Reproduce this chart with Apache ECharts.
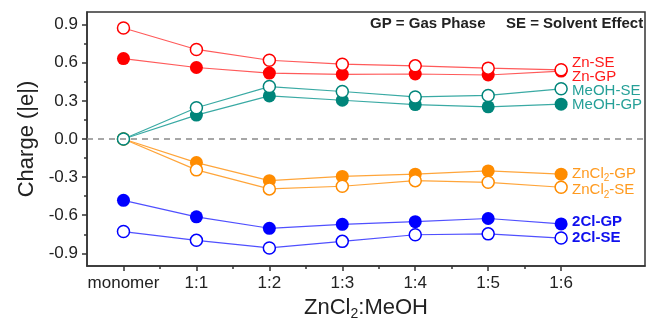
<!DOCTYPE html>
<html>
<head>
<meta charset="utf-8">
<script src="https://cdn.jsdelivr.net/npm/echarts@6/dist/echarts.min.js"></script>
<style>
html,body{margin:0;padding:0;background:#fff;}
#c{width:648px;height:326px;}
</style>
</head>
<body>
<div id="c"></div>
<script>
// ---- data ----
const categories = ['monomer', '1:1', '1:2', '1:3', '1:4', '1:5', '1:6'];
const znSE   = [0.874, 0.705, 0.620, 0.589, 0.576, 0.558, 0.545];
const znGP   = [0.633, 0.563, 0.519, 0.509, 0.512, 0.504, 0.535];
const meohSE = [0.000, 0.246, 0.413, 0.374, 0.331, 0.343, 0.395];
const meohGP = [0.000, 0.188, 0.339, 0.305, 0.271, 0.253, 0.274];
const zncl2GP = [0.000, -0.186, -0.328, -0.295, -0.277, -0.251, -0.277];
const zncl2SE = [0.000, -0.243, -0.393, -0.372, -0.328, -0.341, -0.380];
const cl2GP  = [-0.483, -0.613, -0.703, -0.672, -0.651, -0.626, -0.669];
const cl2SE  = [-0.729, -0.798, -0.858, -0.806, -0.754, -0.747, -0.780];
const yTicks = [-0.9, -0.6, -0.3, 0.0, 0.3, 0.6, 0.9];
const yMinorTicks = [-0.75, -0.45, -0.15, 0.15, 0.45, 0.75];
const xMinorTicks = [0.5, 1.5, 2.5, 3.5, 4.5, 5.5];

const FONT = "'Liberation Sans', Arial, sans-serif";
const toXY = arr => arr.map((v, i) => [i, v]);

function mk(name, data, color, lineColor, labelColor, filled, labelFmt, dy, bold, rich) {
  return {
    name: name,
    type: 'line',
    data: toXY(data),
    symbol: 'circle',
    symbolSize: filled ? 13 : 12,
    lineStyle: { color: lineColor, width: 1.2 },
    itemStyle: filled ? { color: color } : { color: '#fff', borderColor: color, borderWidth: 1.5 },
    emphasis: { disabled: true },
    endLabel: {
      show: true,
      formatter: labelFmt,
      color: labelColor,
      fontFamily: FONT,
      fontSize: 15,
      fontWeight: bold ? 'bold' : 'normal',
      distance: 11,
      offset: [0, dy],
      rich: rich || undefined
    },
    animation: false
  };
}

const subRich = (c) => ({
  a: { fontSize: 15, color: c, fontFamily: FONT },
  s: { fontSize: 10, color: c, fontFamily: FONT, padding: [9, 0, 0, 0] }
});

const orange = '#ff8c00', orangeL = '#ffa53a', orangeT = '#ff9a1f';
const blue = '#0000ff', blueL = '#5050ff', blueT = '#1010ee';
const red = '#ff0000', redL = '#ff5a5a', redT = '#ff1a1a';
const teal = '#00857a', tealL = '#3aaaa4', tealT = '#26a098';

const series = [
  mk('ZnCl2-GP', zncl2GP, orange, orangeL, orangeT, true, '{a|ZnCl}{s|2}{a|-GP}', 0, false, subRich(orangeT)),
  mk('ZnCl2-SE', zncl2SE, orange, orangeL, orangeT, false, '{a|ZnCl}{s|2}{a|-SE}', 3, false, subRich(orangeT)),
  mk('2Cl-GP', cl2GP, blue, blueL, blueT, true, '2Cl-GP', -2, true),
  mk('2Cl-SE', cl2SE, blue, blueL, blueT, false, '2Cl-SE', 0, true),
  mk('Zn-GP', znGP, red, redL, redT, true, 'Zn-GP', 6, false),
  mk('Zn-SE', znSE, red, redL, redT, false, 'Zn-SE', -7, false),
  mk('MeOH-GP', meohGP, teal, tealL, tealT, true, 'MeOH-GP', 1, false),
  mk('MeOH-SE', meohSE, teal, tealL, tealT, false, 'MeOH-SE', 2, false)
];
series[0].markLine = {
  silent: true,
  symbol: 'none',
  label: { show: false },
  lineStyle: { color: '#8a8a8a', type: [6, 5], width: 1.5 },
  data: [{ yAxis: 0 }],
  animation: false
};
series[0].z = 1;

const chart = echarts.init(document.getElementById('c'), null, { renderer: 'canvas' });
chart.setOption({
  animation: false,
  backgroundColor: '#fff',
  grid: { left: 87, right: 3, top: 12, bottom: 55, show: true, borderColor: '#333', borderWidth: 1.5, backgroundColor: 'transparent' },
  xAxis: [
    {
      type: 'value', min: -0.5, max: 7.15,
      axisLine: { show: true, onZero: false, lineStyle: { color: '#333', width: 1.5 } },
      axisTick: { show: true, customValues: [0, 1, 2, 3, 4, 5, 6], length: 5, lineStyle: { color: '#333', width: 1.5 } },
      axisLabel: {
        customValues: [0, 1, 2, 3, 4, 5, 6],
        formatter: v => categories[Math.round(v)],
        color: '#222', fontFamily: FONT, fontSize: 17, margin: 9
      },
      splitLine: { show: false },
      name: '{a|ZnCl}{s|2}{a|:MeOH}',
      nameLocation: 'middle',
      nameGap: 29,
      nameTextStyle: {
        rich: {
          a: { fontSize: 22, color: '#222', fontFamily: FONT },
          s: { fontSize: 14, color: '#222', fontFamily: FONT, padding: [12, 0, 0, 0] }
        }
      }
    },
    {
      type: 'value', min: -0.5, max: 7.15, position: 'bottom',
      axisLine: { show: false, onZero: false },
      axisTick: { show: true, customValues: xMinorTicks, length: 3, lineStyle: { color: '#333', width: 1.5 } },
      axisLabel: { show: false },
      splitLine: { show: false }
    }
  ],
  yAxis: [
    {
      type: 'value', min: -1, max: 1,
      axisLine: { show: true, onZero: false, lineStyle: { color: '#333', width: 1.5 } },
      axisTick: { show: true, customValues: yTicks, length: 5, lineStyle: { color: '#333', width: 1.5 } },
      axisLabel: {
        customValues: yTicks,
        formatter: v => v.toFixed(1),
        color: '#222', fontFamily: FONT, fontSize: 17, margin: 9
      },
      splitLine: { show: false },
      name: 'Charge (|e|)',
      nameLocation: 'middle',
      nameGap: 49,
      nameTextStyle: { fontSize: 22, color: '#222', fontFamily: FONT }
    },
    {
      type: 'value', min: -1, max: 1, position: 'left',
      axisLine: { show: false, onZero: false },
      axisTick: { show: true, customValues: yMinorTicks, length: 3, lineStyle: { color: '#333', width: 1.5 } },
      axisLabel: { show: false },
      splitLine: { show: false }
    }
  ],
  graphic: [
    { type: 'text', left: 370, top: 16, style: { text: 'GP = Gas Phase', font: 'bold 15px ' + FONT, fill: '#222' } },
    { type: 'text', left: 506, top: 16, style: { text: 'SE = Solvent Effect', font: 'bold 15px ' + FONT, fill: '#222' } }
  ],
  series: series
});
</script>
</body>
</html>
